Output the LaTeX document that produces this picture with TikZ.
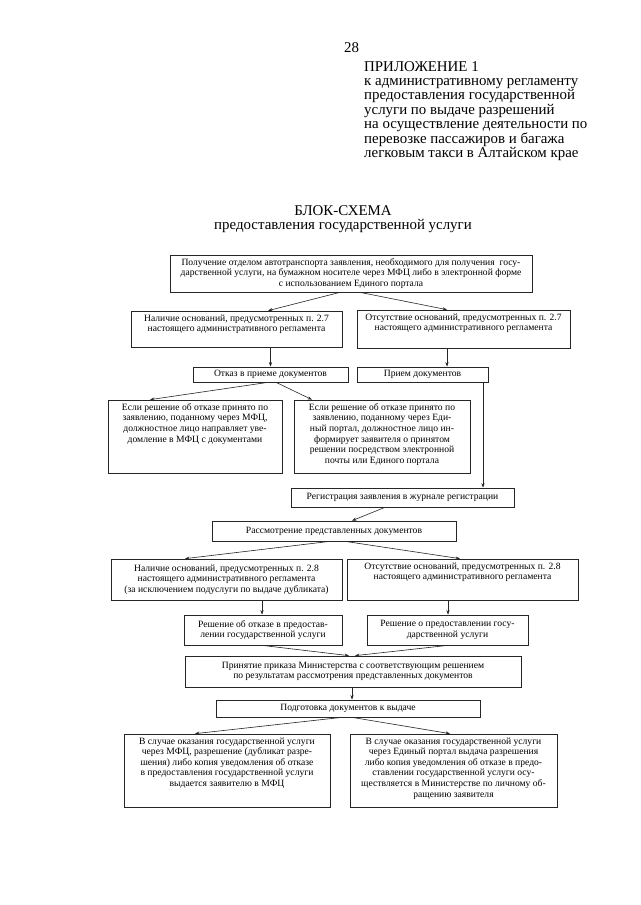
\documentclass[tikz,border=0pt]{standalone}
\usepackage{fontspec}
\setmainfont{Liberation Serif}
\usetikzlibrary{arrows.meta,calc}
\newcommand\boxfont{\fontsize{9.6pt}{10.6pt}\selectfont}
\newcommand\hdfont{\fontsize{14.9pt}{14.4pt}\selectfont}
\tikzset{
  bx/.style={draw=black!85, line width=0.7pt, inner sep=0pt, font=\boxfont},
  arr/.style={draw=black!85, line width=0.6pt, -{Stealth[length=4.5pt,width=3.2pt]}},
}
% top-aligned box
\newcommand\tbox[6]{\node[bx] (#1) at ({(#2+#4)/2},{(#3+#5)/2})
  {\parbox[c][\dimexpr#5pt-#3pt\relax][t]{\dimexpr#4pt-#2pt\relax}{\centering\vspace*{3.5pt}#6\par}};}
% vertically centred box
\newcommand\cbox[6]{\node[bx] (#1) at ({(#2+#4)/2},{(#3+#5)/2})
  {\parbox[c][\dimexpr#5pt-#3pt\relax][c]{\dimexpr#4pt-#2pt\relax}{\centering #6\par}};}
\begin{document}
\begin{tikzpicture}[x=1pt,y=-1pt]
\fill[white] (0,0) rectangle (640,905);
\useasboundingbox (0,0) rectangle (640,905);

\node[anchor=base west, font=\hdfont, inner sep=0pt] (pg) at (344,52) {28};
\node[anchor=north west, align=left, font=\hdfont, inner sep=0pt] (hdr) at (364,61)
  {ПРИЛОЖЕНИЕ 1\\к административному регламенту\\предоставления государственной\\услуги по выдаче разрешений\\на осуществление деятельности по\\перевозке пассажиров и багажа\\легковым такси в Алтайском крае};
\node[align=center, font=\hdfont, inner sep=0pt] (title) at (343,219)
  {БЛОК-СХЕМА\\предоставления государственной услуги};

\cbox{top}{170}{255}{532}{292}{Получение отделом автотранспорта заявления, необходимого для получения~ госу-\\дарственной услуги, на бумажном носителе через МФЦ либо в электронной форме\\с использованием Единого портала}
\tbox{b2l}{131}{311}{342}{347}{Наличие оснований, предусмотренных п. 2.7\\настоящего административного регламента}
\tbox{b2r}{357}{310}{570}{348}{Отсутствие оснований, предусмотренных п. 2.7\\настоящего административного регламента}
\cbox{b3l}{193}{367}{348}{382}{Отказ в приеме документов}
\cbox{b3r}{357}{367}{488}{382}{Прием документов}
\tbox{b4l}{108}{400}{282}{473}{Если решение об отказе принято по\\заявлению, поданному через МФЦ,\\должностное лицо направляет уве-\\домление в МФЦ с документами}
\tbox{b4r}{294}{400}{470}{473}{Если решение об отказе принято по\\заявлению, поданному через Еди-\\ный портал, должностное лицо ин-\\формирует заявителя о принятом\\решении посредством электронной\\почты или Единого портала}
\cbox{reg}{291}{488}{514}{507}{Регистрация заявления в журнале регистрации}
\cbox{ras}{212}{521}{456}{541}{Рассмотрение представленных документов}
\cbox{b6l}{111}{559}{342}{600}{Наличие оснований, предусмотренных п. 2.8\\настоящего административного регламента\\(за исключением подуслуги по выдаче дубликата)}
\tbox{b6r}{347}{559}{578}{600}{Отсутствие оснований, предусмотренных п. 2.8\\настоящего административного регламента}
\cbox{b7l}{184}{615}{342}{645}{Решение об отказе в предостав-\\лении государственной услуги}
\cbox{b7r}{367}{615}{528}{645}{Решение о предоставлении госу-\\дарственной услуги}
\cbox{prin}{185}{656}{521}{687}{Принятие приказа Министерства с соответствующим решением\\по результатам рассмотрения представленных документов}
\cbox{podg}{216}{700}{480}{717}{Подготовка документов к выдаче}
\tbox{b9l}{124}{734}{330}{807}{В случае оказания государственной услуги\\через МФЦ, разрешение (дубликат разре-\\шения) либо копия уведомления об отказе\\в предоставления государственной услуги\\выдается заявителю в МФЦ}
\tbox{b9r}{350}{734}{557}{807}{В случае оказания государственной услуги\\через Единый портал выдача разрешения\\либо копия уведомления об отказе в предо-\\ставлении государственной услуги осу-\\ществляется в Министерстве по личному об-\\ращению заявителя}

\draw[arr] ([xshift=-11pt]top.south) -- ([xshift=31.5pt]b2l.north);
\draw[arr] ([xshift=9pt]top.south) -- ([xshift=-16.5pt]b2r.north);
\draw[arr] (b2l.south -| b3l.north) -- (b3l.north);
\draw[arr] ([xshift=-16.5pt]b2r.south) -- ([xshift=-16.5pt]b2r.south |- b3r.north);
\draw[arr] ([xshift=-2.5pt]b3l.south) -- ([xshift=-45pt]b4l.north);
\draw[arr] ([xshift=5.5pt]b3l.south) -- ([xshift=-70pt]b4r.north);
\draw[arr] ([xshift=60.5pt]b3r.south) -- ([xshift=60.5pt]b3r.south |- reg.north);
\draw[arr] ([xshift=-17.5pt]reg.south) -- ([xshift=18pt]ras.north);
\draw[arr] ([xshift=-4pt]ras.south) -- ([xshift=-41.5pt]b6l.north);
\draw[arr] ([xshift=11pt]ras.south) -- ([xshift=-2.5pt]b6r.north);
\draw[arr] ([xshift=35.5pt]b6l.south) -- ([xshift=35.5pt]b6l.south |- b7l.north);
\draw[arr] ([xshift=-14.5pt]b6r.south) -- ([xshift=-14.5pt]b6r.south |- b7r.north);
\draw[arr] ([xshift=-1pt]b7l.south) -- ([xshift=-4pt]prin.north);
\draw[arr] ([xshift=0.5pt]b7r.south) -- ([xshift=2pt]prin.north);
\draw[arr] ([xshift=-1pt]prin.south) -- ([xshift=-1pt]prin.south |- podg.north);
\draw[arr] ([xshift=-6pt]podg.south) -- ([xshift=-32pt]b9l.north);
\draw[arr] ([xshift=4pt]podg.south) -- ([xshift=-3.5pt]b9r.north);
\end{tikzpicture}
\end{document}
